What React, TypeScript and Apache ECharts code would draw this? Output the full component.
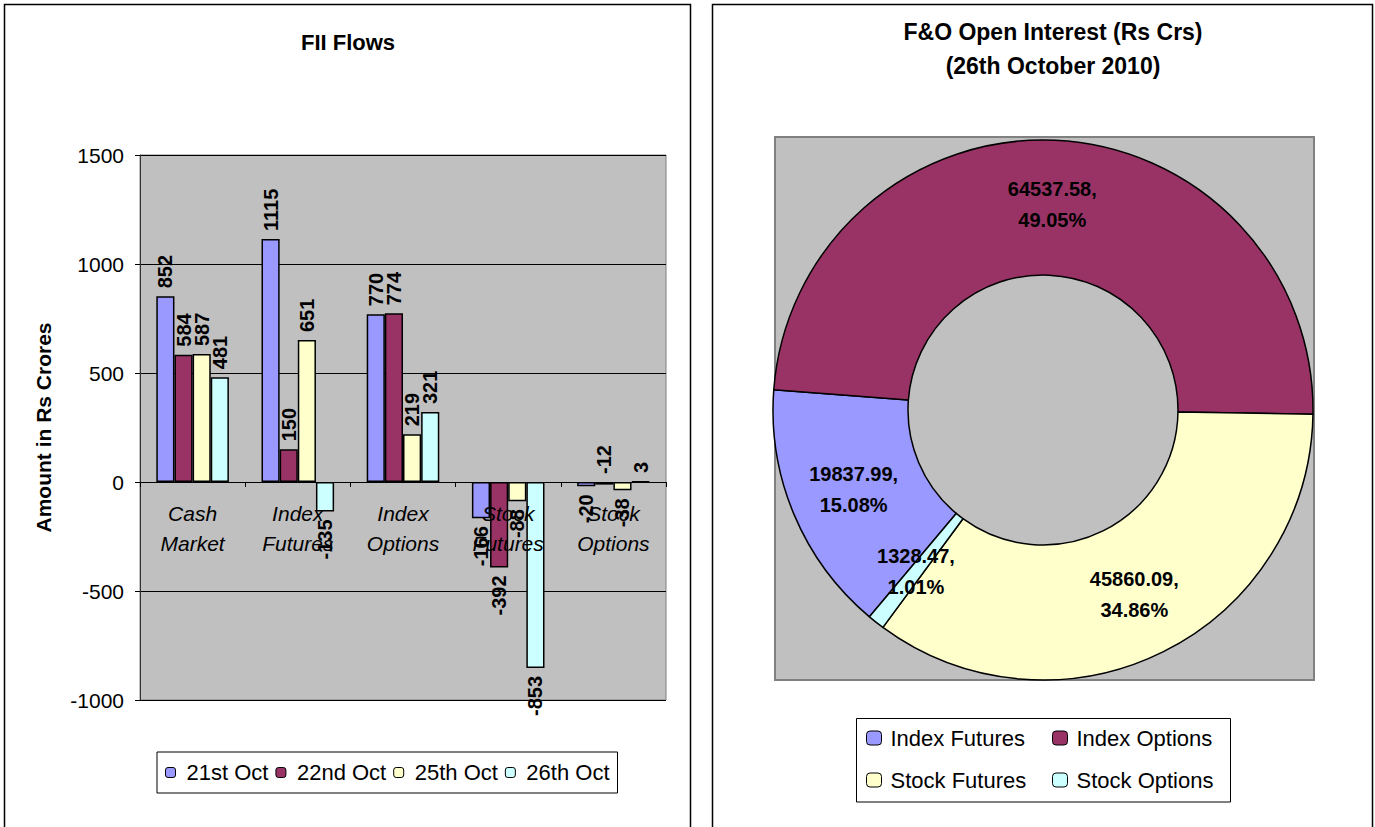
import React, { useEffect, useRef } from "react";
import * as echarts from "echarts";

// ---- Data: FII Flows (Rs Crores) ----
const flowCategories = ["Cash Market", "Index Futures", "Index Options", "Stock Futures", "Stock Options"];
const flowDates = ["21st Oct", "22nd Oct", "25th Oct", "26th Oct"];
const oct21 = [852, 1115, 770, -166, -20];
const oct22 = [584, 150, 774, -392, -12];
const oct25 = [587, 651, 219, -88, -38];
const oct26 = [481, -135, 321, -853, 3];
const flowSeries = [oct21, oct22, oct25, oct26];
const yMin = -1000;
const yMax = 1500;
const yStep = 500;

// ---- Data: F&O Open Interest (Rs Crs), 26th October 2010 ----
const oiNames = ["Index Futures", "Index Options", "Stock Futures", "Stock Options"];
const oiValues = [19837.99, 64537.58, 45860.09, 1328.47];

const palette = ["#9999FF", "#993366", "#FFFFCC", "#CCFFFF"];
const FONT = "'Liberation Sans', Arial, sans-serif";

const GRID_TOP = 155;
const GRID_HEIGHT = 545;

export default function App() {
  const ref = useRef<HTMLDivElement>(null);

  useEffect(() => {
    if (!ref.current) return;
    const chart = echarts.init(ref.current, undefined, { renderer: "svg" });

    // distance of the zero line above the grid bottom (x axis sits on zero)
    const zeroOffset = (-yMin / (yMax - yMin)) * GRID_HEIGHT;

    const barSeries = flowDates.map((name, i) => ({
      type: "bar",
      name,
      xAxisIndex: 0,
      yAxisIndex: 0,
      barGap: "0%",
      barCategoryGap: "31%",
      itemStyle: { color: palette[i], borderColor: "#000", borderWidth: 1.5 },
      label: {
        show: true,
        rotate: 90,
        distance: 8,
        fontSize: 20,
        fontWeight: "bold",
        color: "#000",
        fontFamily: FONT,
        verticalAlign: "middle",
      },
      emphasis: { disabled: true },
      data: flowSeries[i].map((v, j) => {
        // in the original, the tiny "-12" label sits above the axis
        const above = v >= 0 || (name === "22nd Oct" && flowCategories[j] === "Stock Options");
        return {
          value: v,
          label: {
            position: above ? "top" : "bottom",
            align: above ? "left" : "right",
          },
        };
      }),
    }));

    const option: any = {
      animation: false,
      textStyle: { fontFamily: FONT },
      title: [
        {
          text: "FII Flows",
          left: 348,
          top: 31,
          padding: 0,
          textAlign: "center",
          textStyle: { fontSize: 22, fontWeight: "bold", color: "#000", fontFamily: FONT },
        },
        {
          text: "F&O Open Interest (Rs Crs)\n(26th October 2010)",
          left: 1053,
          top: 15,
          padding: 0,
          textAlign: "center",
          textStyle: { fontSize: 23, fontWeight: "bold", color: "#000", lineHeight: 34, fontFamily: FONT },
        },
      ],
      graphic: [
        {
          type: "rect",
          z: -10,
          shape: { x: 4.5, y: 4.5, width: 686, height: 900 },
          style: { fill: "#fff", stroke: "#000", lineWidth: 1.5 },
        },
        {
          type: "rect",
          z: -10,
          shape: { x: 712.5, y: 4.5, width: 660, height: 900 },
          style: { fill: "#fff", stroke: "#000", lineWidth: 1.5 },
        },
        {
          type: "rect",
          z: -5,
          shape: { x: 775, y: 137, width: 539, height: 543 },
          style: { fill: "#C0C0C0", stroke: "#808080", lineWidth: 2 },
        },
        {
          type: "rect",
          z: -5,
          shape: { x: 856.5, y: 718.5, width: 374, height: 83.5 },
          style: { fill: "#fff", stroke: "#000", lineWidth: 1 },
        },
      ],
      legend: [
        {
          data: flowDates,
          left: 157,
          top: 752,
          orient: "horizontal",
          padding: [8, 8],
          itemGap: 7,
          itemWidth: 10,
          itemHeight: 10,
          borderColor: "#000",
          borderWidth: 1,
          backgroundColor: "#fff",
          selectedMode: false,
          itemStyle: { borderColor: "#000", borderWidth: 1 },
          textStyle: { fontSize: 22, lineHeight: 25, color: "#000", fontFamily: FONT, padding: [0, 0, 0, 6] },
        },
        {
          data: [oiNames[0], oiNames[2]],
          left: 866,
          top: 725,
          orient: "vertical",
          padding: 0,
          itemGap: 16,
          itemWidth: 15,
          itemHeight: 14,
          selectedMode: false,
          itemStyle: { borderColor: "#000", borderWidth: 1 },
          textStyle: { fontSize: 22, lineHeight: 26, color: "#000", fontFamily: FONT, padding: [0, 0, 0, 4] },
        },
        {
          data: [oiNames[1], oiNames[3]],
          left: 1052,
          top: 725,
          orient: "vertical",
          padding: 0,
          itemGap: 16,
          itemWidth: 15,
          itemHeight: 14,
          selectedMode: false,
          itemStyle: { borderColor: "#000", borderWidth: 1 },
          textStyle: { fontSize: 22, lineHeight: 26, color: "#000", fontFamily: FONT, padding: [0, 0, 0, 4] },
        },
      ],
      grid: [
        {
          left: 140,
          top: GRID_TOP,
          width: 526,
          height: GRID_HEIGHT,
          show: true,
          backgroundColor: "#C0C0C0",
          borderColor: "#808080",
          borderWidth: 1,
        },
      ],
      xAxis: [
        {
          type: "category",
          gridIndex: 0,
          data: flowCategories,
          position: "bottom",
          offset: -zeroOffset,
          z: 10,
          axisLine: { show: true, onZero: false, lineStyle: { color: "#000", width: 1 } },
          axisTick: { show: true, length: 5, lineStyle: { color: "#000" } },
          axisLabel: {
            interval: 0,
            margin: 16,
            fontSize: 21,
            lineHeight: 30,
            fontStyle: "italic",
            color: "#000",
            fontFamily: FONT,
            formatter: (v: string) => v.replace(" ", "\n"),
          },
          splitLine: { show: false },
        },
      ],
      yAxis: [
        {
          type: "value",
          gridIndex: 0,
          min: yMin,
          max: yMax,
          interval: yStep,
          name: "Amount in Rs Crores",
          nameLocation: "middle",
          nameRotate: 90,
          nameGap: 86,
          nameTextStyle: { fontSize: 21, fontWeight: "bold", color: "#000", fontFamily: FONT },
          axisLine: { show: true, lineStyle: { color: "#333", width: 1 } },
          axisTick: { show: true, length: 5, lineStyle: { color: "#000" } },
          axisLabel: {
            margin: 16,
            fontSize: 21,
            color: "#000",
            fontFamily: FONT,
            formatter: (v: number) => String(v),
          },
          splitLine: { show: true, lineStyle: { color: "#000", width: 1 } },
        },
      ],
      series: [
        ...barSeries,
        {
          type: "pie",
          name: "F&O Open Interest",
          center: [1043, 410],
          radius: [135, 270],
          startAngle: 230,
          clockwise: true,
          z: 3,
          emphasis: { disabled: true },
          itemStyle: { borderColor: "#000", borderWidth: 1.5 },
          label: {
            show: true,
            position: "inside",
            fontSize: 20,
            fontWeight: "bold",
            lineHeight: 31,
            color: "#000",
            fontFamily: FONT,
            formatter: (p: any) => `${p.value},\n${p.percent.toFixed(2)}%`,
          },
          labelLine: { show: false },
          data: oiNames.map((name, i) => ({
            name,
            value: oiValues[i],
            itemStyle: { color: palette[i] },
          })),
        },
      ],
    };

    chart.setOption(option);
    return () => chart.dispose();
  }, []);

  return (
    <div
      ref={ref}
      style={{ position: "fixed", left: 0, top: 0, width: 1375, height: 827, background: "#fff" }}
    />
  );
}
